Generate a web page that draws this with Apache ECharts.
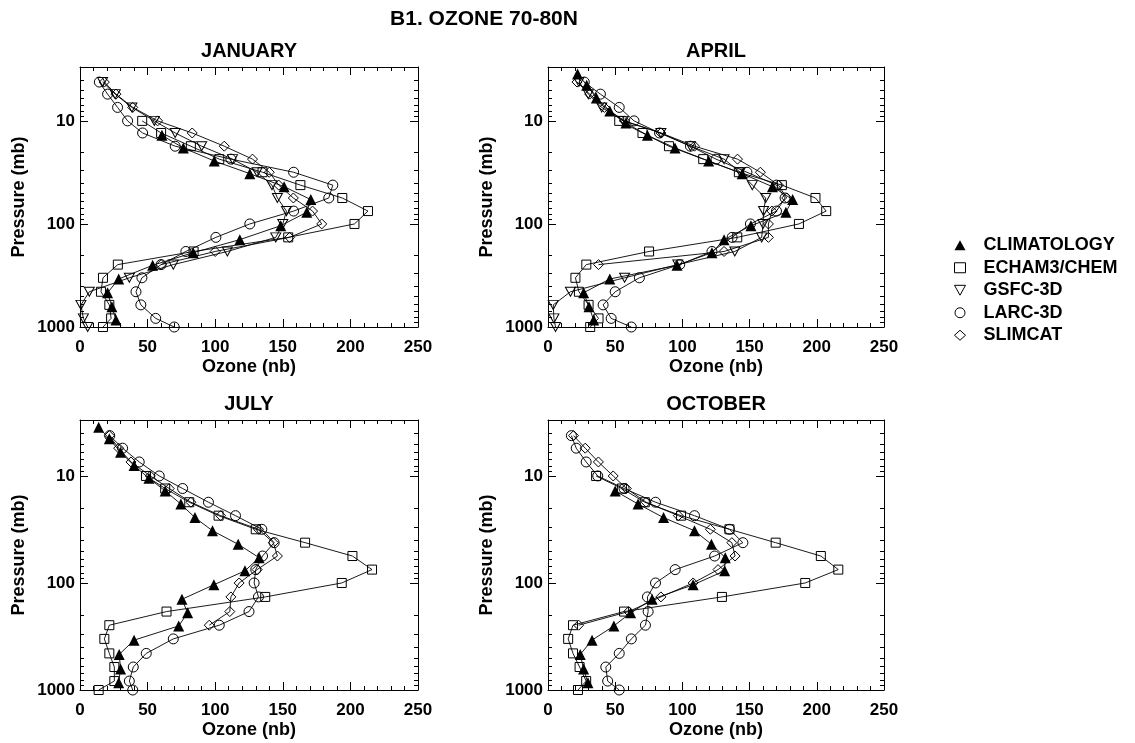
<!DOCTYPE html>
<html><head><meta charset="utf-8">
<script src="https://cdn.jsdelivr.net/npm/echarts@6/dist/echarts.min.js"></script>
<style>html,body{margin:0;padding:0;background:#fff}#c{width:1135px;height:743px}</style>
</head><body><div id="c"></div>
<script>
// ---- pressure levels (mb) ----
const LEVELS_CLIM  = [3.5, 4.5, 6, 8, 10.5, 13.8, 18.3, 24.5, 32.5, 43.5, 58, 77, 104, 142, 190, 252, 342, 465, 635, 855];
const LEVELS_MODEL = [4.2, 5.5, 7.4, 10, 13.1, 17.6, 23.5, 31.5, 42, 56, 75, 100, 135, 185, 248, 333, 455, 610, 825, 1000];

// ---- ozone (nb), aligned with the level arrays (null = no value) ----
const JAN_CLIM  = [null,null,null,null,null, 60.6, 76.4, 99.3, 125.6, 151, 170.7, 167.7, 148.5, 118.2, 83.7, 53.7, 28.6, 20.4, 23.6, 26.6];
const JAN_ECHAM = [null,null,null, 46, 60, 82, 103, 135, 163, 194, 213, 203, 154, 84, 28, 17, 15.5, 21.7, 23, 17];
const JAN_GSFC  = [16.7, 26, 38.4, 55, 70.4, 90, 112.8, 131, 142, 146, 152.7, 150, 144.8, 109, 69, 36.5, 6.9, 0.7, 2.5, 5.7];
const JAN_LARC  = [14.3, 20.4, 27.8, 35.2, 46.3, 70.4, 111.6, 158, 187, 184, 158, 125.6, 100.5, 78.3, 60, 45.8, 41.4, 45, 56, 69.7];
const JAN_SLIM  = [18, 26.6, 39, 57.4, 83, 106.7, 127.6, 140, 147, 157.8, 172, 178.8, 155, 100, 60, null, null, null, null, null];

const APR_CLIM  = [22, 28.8, 36, 46, 58, 74, 94.5, 119.5, 144.5, 167, 182, 177, 151, 131, 122, 96, 46, 26.5, 30.5, 34];
const APR_ECHAM = [null,null,null, 53, 70.3, 90, 115.5, 142, 174, 199, 207, 186.7, 140.8, 75.2, 28.5, 20.4, 23, 30.2, 37.6, 31.4];
const APR_GSFC  = [23, 30, 40, 56, 84, 106, 131, 143, 152, 162, 160.4, 160, 159, 139, 96.6, 57, 16.7, 3.9, 4.4, 5.6];
const APR_LARC  = [27, 39, 53, 64, 83, 106, 125, 148, 170, 176.4, 170, 150.6, 137, 122, 98, 68, 50, 41, 47, 62];
const APR_SLIM  = [21.6, 31, 42, 57, 84, 109, 141, 158, 171.5, 177.6, 166.6, 164, 164, 131, 37.6, null, null, null, null, null];

const JUL_CLIM  = [13.8, 21.7, 30, 40, 51, 63, 74.6, 85, 98, 117, 132.5, 122, 99, 75.4, 79.6, 73, 40, 29, 30, 28.6];
const JUL_ECHAM = [null,null,null, 48.8, 63, 80.8, 102.5, 130, 166.5, 201.5, 216, 193.6, 137, 64, 21.7, 18, 21.7, 25.4, 25.4, 13.8];
const JUL_LARC  = [22, 31.5, 43.8, 58.6, 75.9, 95, 115, 134.5, 143.6, 135, 130, 128.8, 132, 125, 103, 69, 49, 39.4, 36.5, 39];
const JUL_SLIM  = [21.7, 28.6, 37.7, 52, 66, 82, 104, 132, 143, 146, 131, 117.7, 111.6, 110.8, 95.6, null, null, null, null, null];

const OCT_CLIM  = [null,null,null,null,null, 50, 67, 86, 109, 121.6, 131.9, 131.4, 108, 77.5, 61.5, 49, 32.8, 24, 26.5, 29.7];
const OCT_ECHAM = [null,null,null, 35.8, 55, 72, 99, 135, 169.4, 203, 216, 191.4, 129.4, 56.6, 18.6, 15, 18.6, 23.5, 28.4, 22.3];
const OCT_LARC  = [17.4, 21, 28.4, 37, 56.6, 80, 109, 135, 145, 124, 94.6, 80, 74, 74.5, 72.5, 62, 53, 43, 44.4, 53];
const OCT_SLIM  = [19, 27.7, 37.5, 48.5, 58.3, 73, 97, 120.8, 136.8, 139.2, 126.5, 108, 84, 60, 22.8, null, null, null, null, null];

const MAIN_TITLE = 'B1. OZONE 70-80N';
const MONTHS = ['JANUARY', 'APRIL', 'JULY', 'OCTOBER'];
const MODEL_NAMES = ['CLIMATOLOGY', 'ECHAM3/CHEM', 'GSFC-3D', 'LARC-3D', 'SLIMCAT'];
const X_LABEL = 'Ozone (nb)';
const Y_LABEL = 'Pressure (mb)';
const Y_TICK_LABELS = [10, 100, 1000];
const Y_MINOR_TICKS = [4,5,6,7,8,9,20,30,40,50,60,70,80,90,200,300,400,500,600,700,800,900];

const MONTH_DATA = [
  [JAN_CLIM, JAN_ECHAM, JAN_GSFC, JAN_LARC, JAN_SLIM],
  [APR_CLIM, APR_ECHAM, APR_GSFC, APR_LARC, APR_SLIM],
  [JUL_CLIM, JUL_ECHAM, null,     JUL_LARC, JUL_SLIM],
  [OCT_CLIM, OCT_ECHAM, null,     OCT_LARC, OCT_SLIM]
];

// ---- styling / layout ----
const FONT = '"Liberation Sans", Arial, Helvetica, sans-serif';
const GRIDS = [
  {left: 80,  top: 67,  width: 338, height: 260},
  {left: 548, top: 67,  width: 336, height: 260},
  {left: 80,  top: 420, width: 338, height: 270},
  {left: 548, top: 420, width: 336, height: 270}
];
const TITLE_POS = [[249, 51], [716, 51], [249, 404], [716, 404]];
const HOLLOW = {color: 'rgba(255,255,255,0)', borderColor: '#000', borderWidth: 1};
const SYMBOLS = [
  {symbol: 'triangle', symbolSize: 11, itemStyle: {color: '#000', borderColor: '#000', borderWidth: 0}},
  {symbol: 'rect', symbolSize: 9, itemStyle: HOLLOW},
  {symbol: 'path://M0,0L10,0L5,9Z', symbolSize: [10, 9], itemStyle: HOLLOW},
  {symbol: 'circle', symbolSize: 10, itemStyle: HOLLOW},
  {symbol: 'diamond', symbolSize: 10, itemStyle: HOLLOW}
];

const chart = echarts.init(document.getElementById('c'), null, {renderer: 'canvas'});

const xAxes = [], yAxes = [], series = [];
GRIDS.forEach((g, i) => {
  const common = {
    gridIndex: i, type: 'value', min: 0, max: 250, interval: 50,
    axisLine: {show: true, onZero: false, lineStyle: {color: '#000', width: 1}},
    axisTick: {show: true, inside: true, length: 8, lineStyle: {color: '#000'}},
    minorTick: {show: true, splitNumber: 5, length: 4, lineStyle: {color: '#000'}},
    splitLine: {show: false}, minorSplitLine: {show: false}
  };
  xAxes.push(Object.assign({}, common, {
    position: 'bottom',
    axisLabel: {show: true, margin: 12, color: '#000', fontSize: 17, fontWeight: 'bold', fontFamily: FONT},
    name: X_LABEL, nameLocation: 'middle', nameGap: 31,
    nameTextStyle: {color: '#000', fontSize: 18, fontWeight: 'bold', fontFamily: FONT}
  }));
  xAxes.push(Object.assign({}, common, {position: 'top', axisLabel: {show: false}}));
  const ycommon = {
    gridIndex: i, type: 'log', logBase: 10, min: 3, max: 1000, inverse: true,
    axisLine: {show: true, onZero: false, lineStyle: {color: '#000', width: 1}},
    axisTick: {show: true, inside: true, length: 8, lineStyle: {color: '#000'}},
    splitLine: {show: false}
  };
  yAxes.push(Object.assign({}, ycommon, {
    position: 'left',
    axisLabel: {show: true, margin: 5, color: '#000', fontSize: 17, fontWeight: 'bold', fontFamily: FONT,
      formatter: v => { const r = Math.round(v); return Y_TICK_LABELS.includes(r) ? String(r) : ''; }},
    name: Y_LABEL, nameLocation: 'middle', nameGap: 52, nameRotate: 90,
    nameTextStyle: {color: '#000', fontSize: 18, fontWeight: 'bold', fontFamily: FONT}
  }));
  yAxes.push(Object.assign({}, ycommon, {position: 'right', axisLabel: {show: false}}));

  MONTH_DATA[i].forEach((vals, k) => {
    if (!vals) return;
    const levels = k === 0 ? LEVELS_CLIM : LEVELS_MODEL;
    const data = [];
    vals.forEach((v, j) => { if (v !== null) data.push([v, levels[j]]); });
    series.push(Object.assign({
      name: MODEL_NAMES[k], type: 'line', xAxisIndex: 2 * i, yAxisIndex: 2 * i,
      data: data, showSymbol: true, showAllSymbol: true, animation: false, silent: true,
      lineStyle: {color: '#000', width: 0.9}, z: 2 + k
    }, SYMBOLS[k]));
  });
});

const legendData = MODEL_NAMES.map((n, k) => ({
  name: n,
  icon: SYMBOLS[k].symbol,
  itemStyle: Object.assign({}, SYMBOLS[k].itemStyle)
}));

const option = {
  backgroundColor: '#fff',
  animation: false,
  grid: GRIDS,
  xAxis: xAxes,
  yAxis: yAxes,
  series: series,
  legend: {
    orient: 'vertical', left: 949, top: 231, itemWidth: 11, itemHeight: 10, itemGap: 4,
    data: legendData, selectedMode: false,
    textStyle: {color: '#000', fontSize: 18, fontWeight: 'bold', fontFamily: FONT, lineHeight: 18.5, padding: [0, 0, 0, 13]}
  }
};
chart.setOption(option);

// titles and log-axis minor ticks (positions from the library's own scales)
const graphics = [];
graphics.push({type: 'text', x: 484, y: 19, silent: true,
  style: {text: MAIN_TITLE, align: 'center', verticalAlign: 'middle', fontSize: 21, fontWeight: 'bold', fontFamily: FONT, fill: '#000'}});
MONTHS.forEach((m, i) => {
  graphics.push({type: 'text', x: TITLE_POS[i][0], y: TITLE_POS[i][1], silent: true,
    style: {text: m, align: 'center', verticalAlign: 'middle', fontSize: 20, fontWeight: 'bold', fontFamily: FONT, fill: '#000'}});
  const xl = chart.convertToPixel({xAxisIndex: 2 * i}, 0);
  const xr = chart.convertToPixel({xAxisIndex: 2 * i}, 250);
  Y_MINOR_TICKS.forEach(v => {
    const y = Math.round(chart.convertToPixel({yAxisIndex: 2 * i}, v)) + 0.5;
    graphics.push({type: 'line', silent: true, shape: {x1: xl, y1: y, x2: xl + 4, y2: y}, style: {stroke: '#000', lineWidth: 1}});
    graphics.push({type: 'line', silent: true, shape: {x1: xr - 4, y1: y, x2: xr, y2: y}, style: {stroke: '#000', lineWidth: 1}});
  });
});
chart.setOption({graphic: graphics});
</script></body></html>
